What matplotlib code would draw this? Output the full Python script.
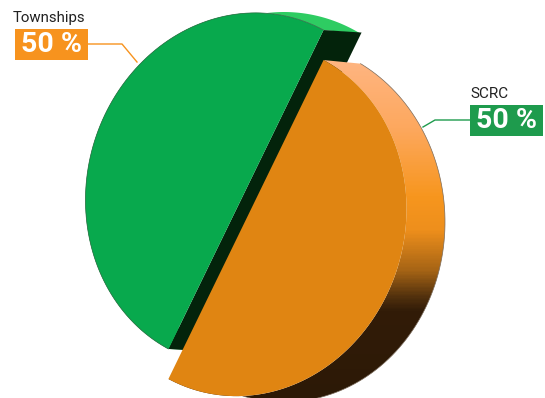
import numpy as np
import matplotlib
matplotlib.use('Agg')
import matplotlib.pyplot as plt
from matplotlib.colors import LinearSegmentedColormap
from matplotlib.patches import PathPatch, Polygon, Rectangle
from matplotlib.path import Path

labels = ['Townships', 'SCRC']
shares = [50, 50]
value_labels = ['50 %', '50 %']

FACE = ['#08a94d', '#e08512']
BADGE = ['#f7931e', '#1e9b4d']
RIM_GREEN = '#2ecc62'
WALL_GREEN = '#03230b'

plt.rcParams['font.family'] = ['Roboto', 'Liberation Sans', 'DejaVu Sans']

fig = plt.figure(figsize=(5.45, 3.98), dpi=100)
ax = fig.add_axes([0, 0, 1, 1])
ax.set_xlim(0, 545)
ax.set_ylim(398, 0)
ax.axis('off')

# disc geometry in pixels: the front face is a slightly tilted ellipse,
# the back edge an upright one shifted by DEPTH
A, B, TILT = 178, 159, 74
RX, RY = 161, 180
START_FRONT, START_BACK = -11.1, 61.6
CENTERS = [(246, 189.5), (246, 219.5)]
DEPTH = (38, 2.5)

fractions = np.concatenate([[0], np.cumsum(shares)]) / np.sum(shares) * 360


def front_arc(center, f0, f1, n=200):
    t = np.radians(START_FRONT + np.linspace(f0, f1, n))
    phi = np.radians(TILT)
    u, v = A * np.cos(t), B * np.sin(t)
    x = u * np.cos(phi) - v * np.sin(phi)
    y = u * np.sin(phi) + v * np.cos(phi)
    return np.column_stack([center[0] + x, center[1] - y])


def back_arc(center, f0, f1, n=200):
    t = np.radians(START_BACK + np.linspace(f0, f1, n))
    return np.column_stack([center[0] + DEPTH[0] + RX * np.cos(t),
                            center[1] + DEPTH[1] - RY * np.sin(t)])


def band(center, f0, f1):
    """Side surface between the front arc and the back arc."""
    return np.vstack([back_arc(center, f0, f1), front_arc(center, f0, f1)[::-1]])


# green slice: rim, cut wall, face
g0, g1 = fractions[0], fractions[1]
ax.add_patch(Polygon(band(CENTERS[0], g0, g1), closed=True, facecolor=RIM_GREEN,
                     edgecolor='none', zorder=1))
green_front = front_arc(CENTERS[0], g0, g1)
chord = green_front[[0, -1]]
ax.add_patch(Polygon(np.vstack([chord, chord[::-1] + DEPTH]), closed=True,
                     facecolor=WALL_GREEN, edgecolor='none', zorder=2))
ax.add_patch(Polygon(green_front, closed=True, facecolor=FACE[0], edgecolor='none', zorder=3))
ax.plot(green_front[:, 0], green_front[:, 1], color='#2f6b45', lw=0.5, zorder=3.5)

# orange slice: side with a vertical shading, then the face
o0, o1 = fractions[1], fractions[2]
side_cmap = LinearSegmentedColormap.from_list('side', [
    (0.00, '#ffb581'), (0.20, '#fda85e'), (0.40, '#f7961e'), (0.50, '#ee8f1c'),
    (0.62, '#a66415'), (0.70, '#4f2f0d'), (0.74, '#321c08'), (1.00, '#2c1906'),
])
shade = np.linspace(0, 1, 340).reshape(-1, 1)
im = ax.imshow(shade, cmap=side_cmap, extent=(150, 460, 400, 60), origin='upper',
               aspect='auto', zorder=4, interpolation='bilinear')
side = PathPatch(Path(band(CENTERS[1], o0, o1), closed=False), facecolor='none',
                 edgecolor='none', transform=ax.transData)
ax.add_patch(side)
im.set_clip_path(side)
outer = back_arc(CENTERS[1], o0, o1)
ax.plot(outer[:, 0], outer[:, 1], color='#7a6a5a', lw=0.5, zorder=4.5)
ax.add_patch(Polygon(front_arc(CENTERS[1], o0, o1), closed=True, facecolor=FACE[1],
                     edgecolor='none', zorder=5))

ax.set_xlim(0, 545)
ax.set_ylim(398, 0)

# callouts
ax.plot([88, 122, 137], [44, 44, 62], color=BADGE[0], lw=1, zorder=6)
ax.plot([470, 435, 423], [120, 120, 127], color=BADGE[1], lw=1, zorder=6)

ax.add_patch(Rectangle((15, 29), 73, 31, facecolor=BADGE[0], edgecolor='none', zorder=7))
ax.add_patch(Rectangle((470, 105), 73, 31, facecolor=BADGE[1], edgecolor='none', zorder=7))

ax.text(13, 18, labels[0], fontsize=10.8, color='#222222', va='center', ha='left', zorder=8)
ax.text(470, 94, labels[1], fontsize=11, color='#222222', va='center', ha='left', zorder=8)
ax.text(51.5, 45, value_labels[0], fontsize=20.5, fontweight='bold', color='white',
        va='center', ha='center', zorder=8)
ax.text(506.5, 120.5, value_labels[1], fontsize=20.5, fontweight='bold', color='white',
        va='center', ha='center', zorder=8)

fig.savefig('out.png', dpi=100)
plt.close(fig)
